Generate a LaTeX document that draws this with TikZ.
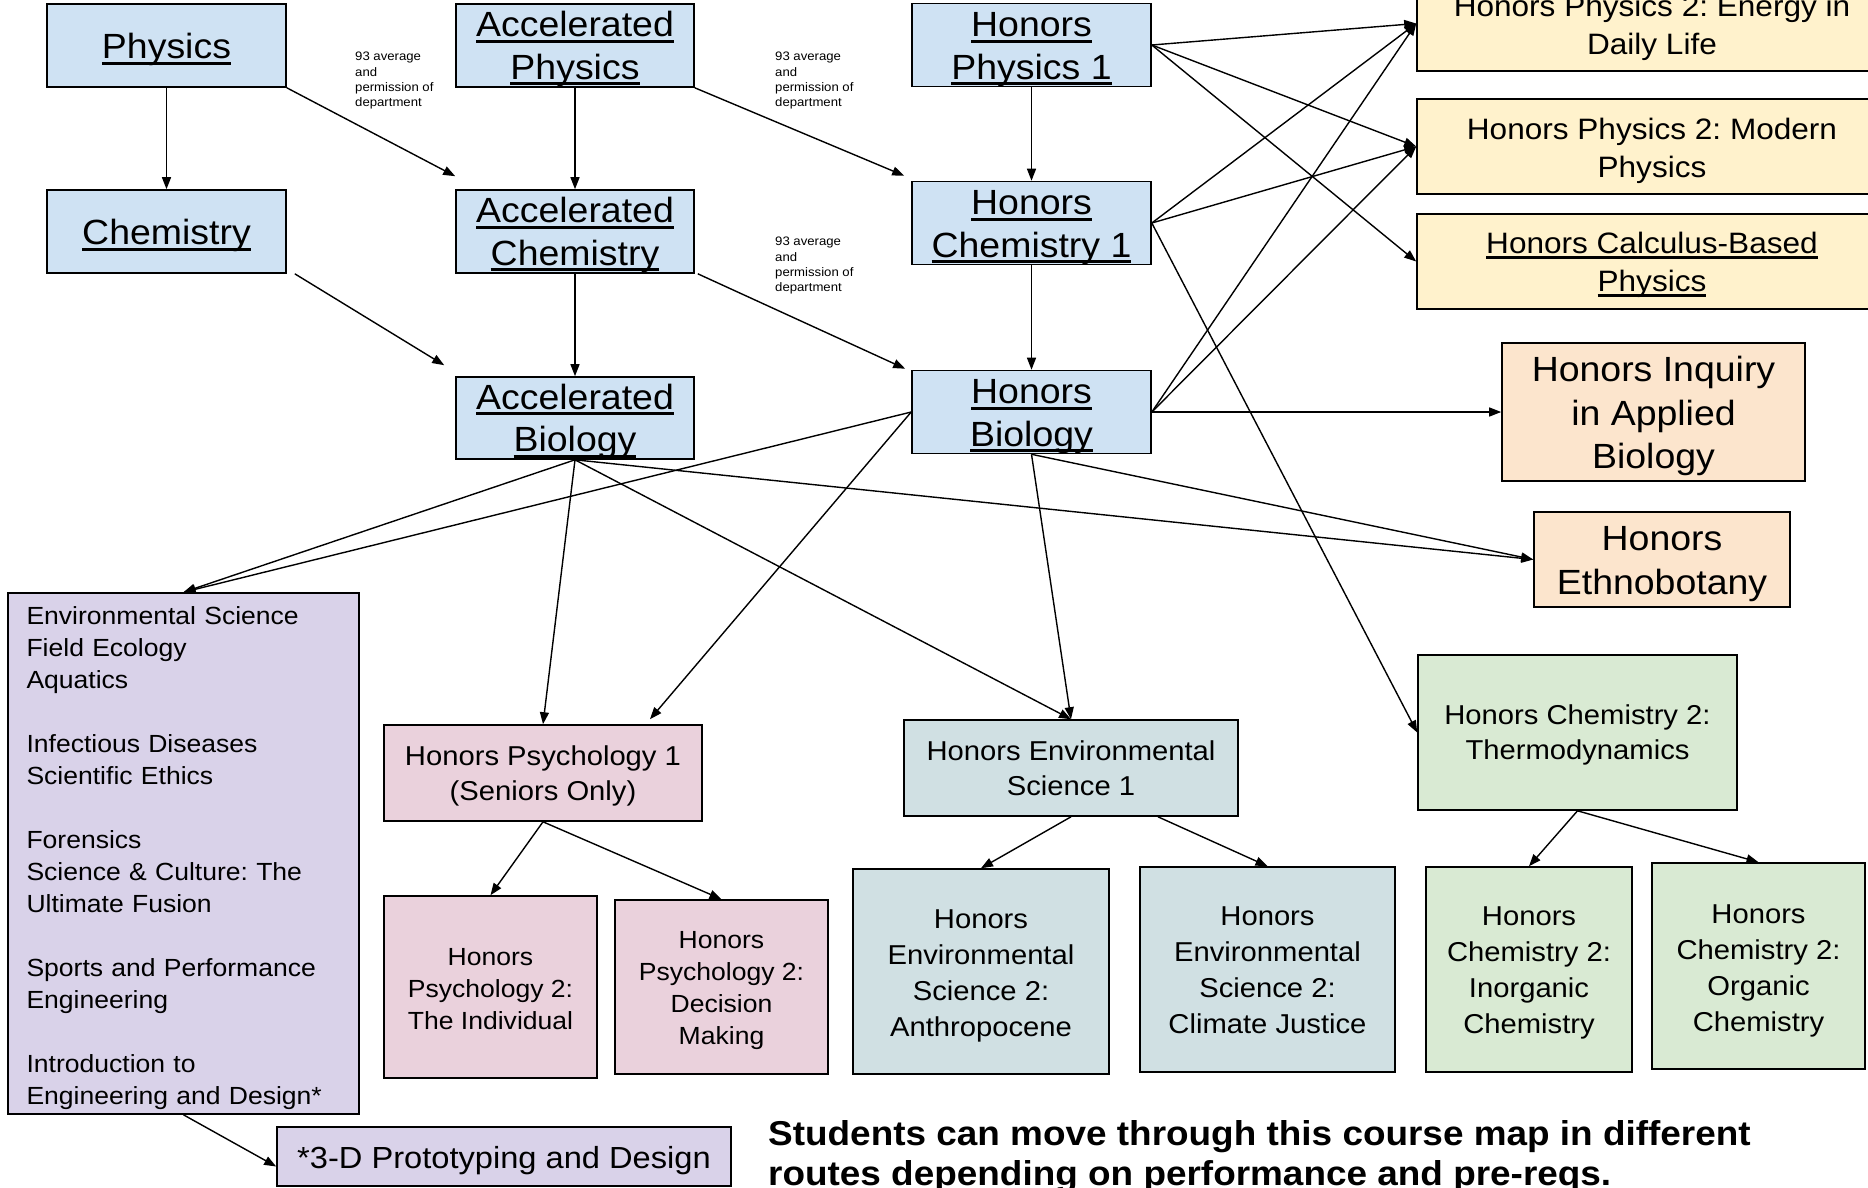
\documentclass[tikz,border=0pt]{standalone}
\usepackage{fontspec}
\setmainfont[FakeStretch=1.07]{Liberation Sans}
\usetikzlibrary{arrows.meta,calc}
\frenchspacing
\definecolor{cblue}{HTML}{CFE2F3}
\definecolor{cyel}{HTML}{FFF2CC}
\definecolor{corange}{HTML}{FCE5CD}
\definecolor{cpurple}{HTML}{D9D2E9}
\definecolor{cpink}{HTML}{EAD1DC}
\definecolor{cteal}{HTML}{D0E0E3}
\definecolor{cgreen}{HTML}{D9EAD3}
\newsavebox\ulbox
\newcommand\ulin[1]{\sbox\ulbox{#1}\rlap{\rule[-0.17em]{\wd\ulbox}{0.085em}}\usebox\ulbox}
\newcommand\fsz[2]{\fontsize{#1}{#2}\selectfont}
\newcommand\dnr[1]{\rule{0pt}{\dimexpr0.72em+#1*2\relax}}
\tikzset{
  course/.style={draw=black, line width=1.6pt, inner sep=0pt, align=center},
  bluebox/.style={course, fill=cblue, minimum width=239pt, minimum height=83pt, font=\fsz{35}{42.5}},
  yelbox/.style={course, fill=cyel, minimum width=470pt, minimum height=95pt, font=\fsz{29.5}{38}},
  orbox/.style={course, fill=corange, font=\fsz{35}{43.5}},
  purbox/.style={course, fill=cpurple},
  pinkbox/.style={course, fill=cpink},
  tealbox/.style={course, fill=cteal},
  greenbox/.style={course, fill=cgreen},
  lbl/.style={inner sep=0pt, align=left, anchor=north west, font=\fsz{12.3}{15.3}},
  arr/.style={line width=1.4pt, -{Triangle[length=12pt,width=9pt]}}
}
\begin{document}
\begin{tikzpicture}[x=1pt,y=-1pt]
\useasboundingbox (0,0) rectangle (1868,1187);
\clip (0,0) rectangle (1868,1187);
\fill[white] (0,0) rectangle (1868,1187);

% blue column nodes
\node[bluebox] (phys) at (166.5,45.5) {\dnr{4.5pt}\ulin{Physics}};
\node[bluebox] (chem) at (166.5,231.5) {\dnr{4.5pt}\ulin{Chemistry}};
\node[bluebox, minimum width=238pt] (aphys) at (575,45.5) {\dnr{3.5pt}\ulin{Accelerated}\\\ulin{Physics}};
\node[bluebox, minimum width=238pt] (achem) at (575,231.5) {\dnr{3.5pt}\ulin{Accelerated}\\\ulin{Chemistry}};
\node[bluebox, minimum width=238pt, minimum height=82pt] (abio) at (575,418) {\dnr{3.5pt}\ulin{Accelerated}\\\ulin{Biology}};
\node[bluebox, minimum height=82pt] (hphys) at (1031.5,45) {\dnr{4pt}\ulin{Honors}\\\ulin{Physics 1}};
\node[bluebox, minimum height=82pt] (hchem) at (1031.5,223) {\dnr{4pt}\ulin{Honors}\\\ulin{Chemistry 1}};
\node[bluebox, minimum height=82pt] (hbio) at (1031.5,412) {\dnr{4pt}\ulin{Honors}\\\ulin{Biology}};

% labels
\node[lbl] (l1) at (355,52) {93 average\\and\\permission of\\department};
\node[lbl] (l2) at (775,52) {93 average\\and\\permission of\\department};
\node[lbl] (l3) at (775,237) {93 average\\and\\permission of\\department};

% yellow
\node[yelbox] (energy) at (1652,23.5) {\dnr{4pt}Honors Physics 2: Energy in\\Daily Life};
\node[yelbox] (modern) at (1652,146.5) {\dnr{4.5pt}Honors Physics 2: Modern\\Physics};
\node[yelbox] (calc) at (1652,261.5) {\dnr{3.5pt}\ulin{Honors Calculus-Based}\\\ulin{Physics}};

% orange
\node[orbox, minimum width=303pt, minimum height=138pt] (inquiry) at (1653.5,412) {\dnr{4.5pt}Honors Inquiry\\in Applied\\Biology};
\node[orbox, minimum width=256pt, minimum height=95pt] (ethno) at (1662,559.5) {\dnr{4pt}Honors\\Ethnobotany};

% purple
\node[purbox, minimum width=351pt, minimum height=521pt, text width=314pt, align=left, font=\fsz{24.8}{32}] (list) at (183.5,853.5)
 {\dnr{4.5pt}Environmental Science\\Field Ecology\\Aquatics\\[32pt]Infectious Diseases\\Scientific Ethics\\[32pt]Forensics\\Science \& Culture: The\\Ultimate Fusion\\[32pt]Sports and Performance\\Engineering\\[32pt]Introduction to\\Engineering and Design*};
\node[purbox, minimum width=454pt, minimum height=59pt, font=\fsz{30.5}{36}] (proto) at (504,1156.5) {\dnr{4pt}*3-D Prototyping and Design};

% pink
\node[pinkbox, minimum width=318pt, minimum height=96pt, font=\fsz{27.3}{35}] (psych1) at (543,773) {\dnr{2.5pt}Honors Psychology 1\\(Seniors Only)};
\node[pinkbox, minimum width=213pt, minimum height=182pt, font=\fsz{24.8}{32}] (psych2a) at (490.5,987) {\dnr{1.5pt}Honors\\Psychology 2:\\The Individual};
\node[pinkbox, minimum width=213pt, minimum height=174pt, font=\fsz{24.8}{32}] (psych2b) at (721.5,987) {\dnr{3.5pt}Honors\\Psychology 2:\\Decision\\Making};

% teal
\node[tealbox, minimum width=334pt, minimum height=96pt, font=\fsz{27.3}{35}] (env1) at (1071,768) {\dnr{0pt}Honors Environmental\\Science 1};
\node[tealbox, minimum width=256pt, minimum height=205pt, font=\fsz{27.3}{36}] (env2a) at (981,971.5) {\dnr{3.5pt}Honors\\Environmental\\Science 2:\\Anthropocene};
\node[tealbox, minimum width=255pt, minimum height=205pt, font=\fsz{27.3}{36}] (env2b) at (1267.5,969.5) {\dnr{0.5pt}Honors\\Environmental\\Science 2:\\Climate Justice};

% green
\node[greenbox, minimum width=319pt, minimum height=155pt, font=\fsz{27.3}{35}] (thermo) at (1577.5,732.5) {\dnr{2.5pt}Honors Chemistry 2:\\Thermodynamics};
\node[greenbox, minimum width=206pt, minimum height=205pt, font=\fsz{27.3}{36}] (inorg) at (1529,969.5) {\dnr{2.5pt}Honors\\Chemistry 2:\\Inorganic\\Chemistry};
\node[greenbox, minimum width=213pt, minimum height=206pt, font=\fsz{27.3}{36}] (org) at (1758.5,966) {\dnr{4pt}Honors\\Chemistry 2:\\Organic\\Chemistry};

% note
\node[inner sep=0pt, anchor=north west, align=left, font=\bfseries\fsz{34.5}{40}] (note) at (768,1120)
 {Students can move through this course map in different\\routes depending on performance and pre-reqs.};

% connectors
\draw[arr] (phys.south) -- (chem.north);
\draw[arr] (phys.south east) -- ($(achem.north west)+(0,-13)$);
\draw[arr] (aphys.south) -- (achem.north);
\draw[arr] (aphys.south east) -- ($(hchem.north west)+(-7,-5)$);
\draw[arr] ($(chem.south east)+(8,0)$) -- ($(abio.north west)+(-11,-11)$);
\draw[arr] (achem.south) -- (abio.north);
\draw[arr] ($(achem.south east)+(3,0)$) -- ($(hbio.north west)+(-6,-1)$);
\draw[arr] (hphys.south) -- (hchem.north);
\draw[arr] (hchem.south) -- (hbio.north);
\draw[arr] (hphys.east) -- (energy.west);
\draw[arr] (hphys.east) -- (modern.west);
\draw[arr] (hphys.east) -- (calc.west);
\draw[arr] (hchem.east) -- (energy.west);
\draw[arr] (hchem.east) -- (modern.west);
\draw[arr] (hchem.east) -- (thermo.west);
\draw[arr] (hbio.east) -- (energy.west);
\draw[arr] (hbio.east) -- (modern.west);
\draw[arr] (hbio.east) -- (inquiry.west);
\draw[arr] (hbio.south) -- (ethno.west);
\draw[arr] (hbio.south) -- (env1.north);
\draw[arr] (abio.south) -- (env1.north);
\draw[arr] (abio.south) -- (ethno.west);
\draw[arr] (abio.south) -- (list.north);
\draw[arr] (hbio.west) -- (list.north);
\draw[arr] (abio.south) -- (psych1.north);
\draw[arr] (hbio.west) -- ($(psych1.north)+(107,-5)$);
\draw[arr] (psych1.south) -- (psych2a.north);
\draw[arr] (psych1.south) -- (psych2b.north);
\draw[arr] (list.south) -- ($(proto.west)+(0,10)$);
\draw[arr] (env1.south) -- (env2a.north);
\draw[arr] ($(env1.south)+(87,0)$) -- (env2b.north);
\draw[arr] (thermo.south) -- (inorg.north);
\draw[arr] (thermo.south) -- (org.north);
\end{tikzpicture}
\end{document}
